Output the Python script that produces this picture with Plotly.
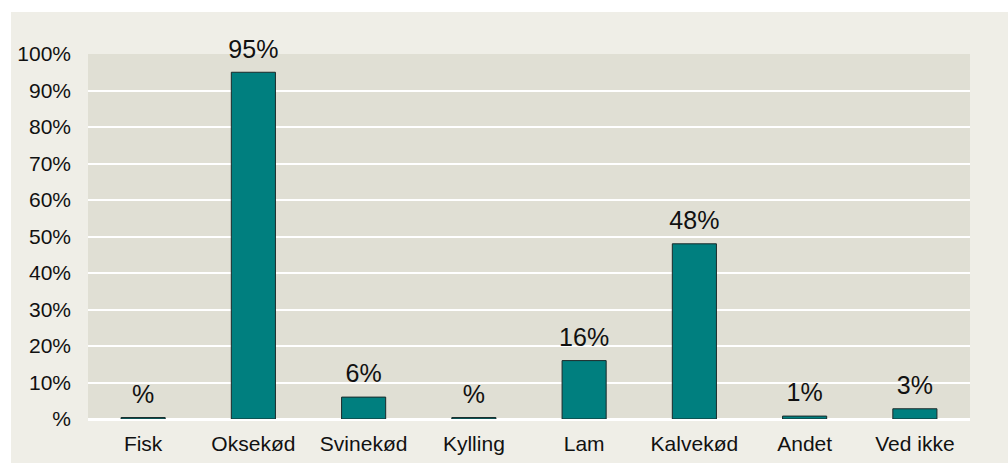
import plotly.graph_objects as go

categories = ["Fisk", "Oksekød", "Svinekød", "Kylling", "Lam", "Kalvekød", "Andet", "Ved ikke"]
values = [0.004, 0.95, 0.06, 0.004, 0.16, 0.48, 0.008, 0.028]
y_ticks = [0, 0.1, 0.2, 0.3, 0.4, 0.5, 0.6, 0.7, 0.8, 0.9, 1.0]
y_tick_labels = ["%", "10%", "20%", "30%", "40%", "50%", "60%", "70%", "80%", "90%", "100%"]


def fmt(v):
    r = round(v * 100)
    return f"{r}%" if r > 0 else "%"


labels = [fmt(v) for v in values]
FONT = "Liberation Sans, Arial, sans-serif"

fig = go.Figure()
fig.add_trace(go.Bar(
    x=categories, y=values,
    marker=dict(color="#007F7F", line=dict(color="#1a2a2a", width=1)),
    width=0.4, hoverinfo="skip",
))
fig.add_trace(go.Scatter(
    x=categories, y=values, text=labels, mode="text+markers",
    textposition="top center",
    marker=dict(size=12, opacity=0),
    textfont=dict(size=25, color="#111111", family=FONT),
    cliponaxis=False,
))

fig.update_layout(
    width=1008, height=463,
    margin=dict(l=88, r=38, t=54, b=44, autoexpand=False),
    paper_bgcolor="#EFEEE7",
    plot_bgcolor="#E0DFD4",
    showlegend=False,
    font=dict(family=FONT, size=22, color="#111111"),
)
# white border: top 12px and left 11px strips
fig.add_shape(type="rect", xref="paper", yref="paper", xsizemode="pixel", ysizemode="pixel",
              xanchor=0, yanchor=1, x0=-200, x1=2000, y0=54 - 12, y1=200,
              fillcolor="white", line=dict(width=0), layer="below")
fig.add_shape(type="rect", xref="paper", yref="paper", xsizemode="pixel", ysizemode="pixel",
              xanchor=0, yanchor=0, x0=-200, x1=-(88 - 11), y0=-200, y1=1000,
              fillcolor="white", line=dict(width=0), layer="below")

fig.update_xaxes(showgrid=False, ticks="", ticklabelstandoff=10, showline=False,
                 tickfont=dict(size=21), automargin=False)
fig.update_yaxes(range=[0, 1.0], tickvals=y_ticks, ticktext=y_tick_labels,
                 showgrid=True, gridcolor="white", gridwidth=2,
                 zeroline=True, zerolinecolor="white", zerolinewidth=3,
                 ticks="", ticklabelstandoff=16, tickfont=dict(size=21), automargin=False)

fig.write_html("out.html", config={"displayModeBar": False},
               post_script="document.body.style.margin='0';document.body.style.overflow='hidden';")
